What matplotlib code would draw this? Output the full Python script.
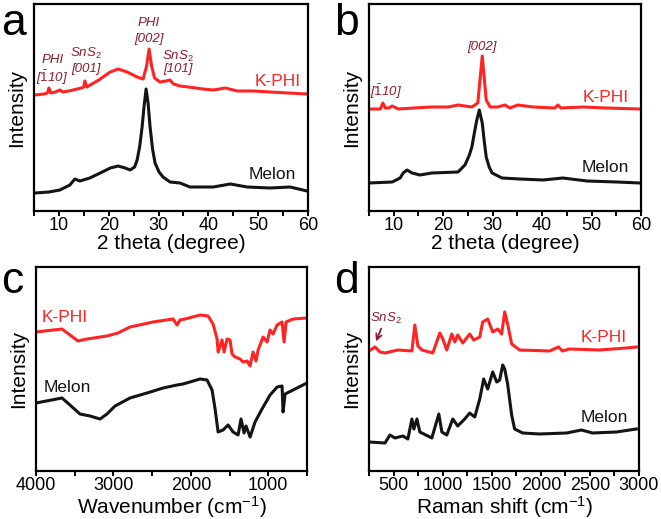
import numpy as np
import matplotlib
matplotlib.use('Agg')
import matplotlib.pyplot as plt

plt.rcParams['font.family'] = ['Liberation Sans', 'DejaVu Sans']
plt.rcParams['mathtext.fontset'] = 'custom'
plt.rcParams['mathtext.rm'] = 'Liberation Sans'
plt.rcParams['mathtext.it'] = 'Liberation Sans:italic'

# ---- data (arbitrary intensity units) ----
# a: XRD, 2 theta
a_kphi_x = [5.2, 7.0, 7.7, 8.0, 8.4, 9.3, 10.2, 10.8, 12.0, 14.5, 15.0, 15.2, 15.6, 18.0, 20.3,
            21.9, 23.7, 25.7, 26.9, 27.6, 28.1, 28.6, 29.2, 30.3, 31.5, 32.3, 33.0, 34.3, 36.0,
            38.9, 41.0, 43.4, 45.8, 49.0, 52.4, 56.0, 59.8]
a_kphi_y = [116, 117, 118, 123, 118, 119, 121, 119, 120, 123, 124, 130, 124, 131, 139,
            142, 139, 134, 132, 145, 162, 145, 133, 129, 130, 131, 127, 125, 124,
            122, 121, 123, 120, 120, 119, 118, 117]
a_mel_x = [5.2, 8.0, 10.2, 12.2, 13.2, 14.2, 16.2, 18.3, 20.3, 21.9, 23.3, 24.3, 25.2, 25.7, 26.2,
           26.7, 27.1, 27.5, 27.9, 28.3, 28.8, 29.3, 30.1, 30.9, 32.3, 34.3, 36.3, 41.0, 44.4,
           47.8, 52.4, 56.4, 59.8]
a_mel_y = [18, 19, 21, 26, 32, 30, 33, 38, 43, 45, 43, 41, 44, 51, 64,
           84, 105, 122, 108, 84, 62, 48, 39, 34, 29, 28, 24, 24, 27,
           24, 23, 24, 20]

# b: XRD, 2 theta
b_kphi_x = [5.0, 7.3, 7.8, 8.3, 9.0, 9.7, 10.9, 14.0, 17.7, 21.0, 23.0, 25.8, 27.0, 27.9,
            28.7, 29.5, 31.0, 32.5, 33.5, 35.1, 38.2, 42.6, 43.2, 43.8, 48.3, 53.1, 59.8]
b_kphi_y = [102, 102, 108, 103, 103, 105, 102, 103, 104, 104, 106, 104, 108, 155,
            111, 104, 104, 106, 103, 106, 104, 103, 106, 103, 104, 103, 102]
b_mel_x = [5.0, 9.7, 11.3, 11.9, 12.7, 13.7, 15.3, 17.7, 23.0, 24.4, 25.3, 25.8, 26.3, 26.8,
           27.3, 27.9, 28.3, 28.7, 29.3, 29.9, 31.9, 35.5, 40.2, 44.2, 49.1, 55.1, 59.8]
b_mel_y = [28, 29, 33, 38, 41, 38, 36, 38, 39, 46, 56, 64, 78, 91,
           101, 88, 70, 54, 44, 38, 33, 32, 31, 33, 30, 29, 28]

# c: FTIR, wavenumber
c_kphi_x = [4000, 3664, 3561, 3457, 3341, 3083, 2941, 2786, 2488, 2230, 2178, 2140, 2075, 1881,
            1778, 1713, 1661, 1648, 1597, 1571, 1532, 1494, 1468, 1429, 1364, 1326, 1274, 1235,
            1197, 1158, 1132, 1067, 1016, 977, 938, 886, 822, 796, 770, 680, 500]
c_kphi_y = [139, 142, 136, 130, 132, 135, 138, 144, 149, 152, 146, 151, 152, 156,
            155, 147, 132, 119, 131, 119, 132, 131, 117, 114, 112, 109, 110, 105,
            119, 110, 121, 134, 129, 141, 137, 146, 149, 129, 149, 152, 153]
c_mel_x = [4000, 3664, 3561, 3432, 3302, 3173, 3083, 2979, 2786, 2566, 2359, 2178, 2101, 1881,
           1791, 1726, 1687, 1648, 1584, 1519, 1455, 1390, 1352, 1313, 1287, 1235, 1171, 1081,
           977, 886, 822, 809, 783, 680, 500]
c_mel_y = [68, 73, 66, 57, 55, 52, 57, 65, 73, 78, 83, 86, 87, 92,
           91, 81, 62, 39, 41, 46, 39, 36, 52, 38, 45, 34, 49, 62,
           76, 84, 85, 59, 77, 81, 88]

# d: Raman shift
d_kphi_x = [250, 311, 362, 413, 545, 687, 717, 748, 789, 900, 971, 1002, 1042, 1093, 1124,
            1154, 1205, 1276, 1317, 1378, 1408, 1459, 1510, 1561, 1601, 1632, 1662, 1703, 1784,
            2089, 2180, 2221, 2292, 2597, 2871, 2973]
d_kphi_y = [120, 124, 119, 118, 121, 120, 146, 125, 121, 118, 138, 132, 121, 137, 129,
            136, 128, 137, 131, 134, 149, 152, 139, 142, 137, 159, 147, 127, 121,
            120, 124, 120, 122, 121, 123, 124]
d_mel_x = [250, 413, 463, 514, 595, 646, 687, 707, 738, 768, 890, 961, 992, 1042, 1103,
           1154, 1225, 1276, 1327, 1378, 1418, 1459, 1510, 1551, 1581, 1612, 1632, 1662, 1703,
           1733, 1815, 1987, 2262, 2414, 2526, 2770, 2973]
d_mel_y = [29, 28, 36, 33, 35, 32, 52, 42, 52, 39, 33, 57, 39, 36, 52,
           45, 52, 58, 54, 72, 92, 82, 99, 89, 91, 106, 102, 87, 56,
           42, 38, 37, 38, 41, 38, 39, 42]

RED = '#ff2424'
BLK = '#141414'
ANN = '#8c1c2c'

W, H = 661, 519
fig = plt.figure(figsize=(W / 100, H / 100), dpi=100)


def make_ax(l, t, r, b):
    ax = fig.add_axes([l / W, 1 - b / H, (r - l) / W, (b - t) / H])
    for s in ax.spines.values():
        s.set_linewidth(1.6)
    ax.set_yticks([])
    ax.tick_params(axis='x', which='both', direction='out', length=3.5, width=1.4,
                   labelsize=13, pad=1)
    ax.set_ylabel('Intensity', fontsize=15, labelpad=6)
    return ax


# panel a
ax = make_ax(34, 4, 308, 211)
ax.plot(a_kphi_x, a_kphi_y, color=RED, lw=2.2)
ax.plot(a_mel_x, a_mel_y, color=BLK, lw=2.2)
ax.set_xlim(5, 60)
ax.set_ylim(0, 207)
ax.set_xticks([10, 20, 30, 40, 50, 60])
ax.set_xticks(np.arange(5, 61, 5), minor=True)
ax.set_xlabel('2 theta (degree)', fontsize=15, labelpad=0)
ax.text(54.0, 129, 'K-PHI', color=RED, fontsize=12.5, ha='center', va='center')
ax.text(52.8, 36, 'Melon', color=BLK, fontsize=12.5, ha='center', va='center')
kw = dict(color=ANN, fontsize=9.5, ha='center', va='center', style='italic')
ax.text(8.7, 151, 'PHI', **kw)
ax.text(8.7, 133, r'[$\mathit{\bar{1}}$10]', **kw)
ax.text(15.4, 158, r'SnS$_\mathit{2}$', **kw)
ax.text(15.4, 142, '[001]', **kw)
ax.text(28.0, 188, 'PHI', **kw)
ax.text(28.0, 172, '[002]', **kw)
ax.text(33.9, 155, r'SnS$_\mathit{2}$', **kw)
ax.text(33.9, 142, '[101]', **kw)

# panel b
ax = make_ax(369, 4, 641, 211)
ax.plot(b_kphi_x, b_kphi_y, color=RED, lw=2.2)
ax.plot(b_mel_x, b_mel_y, color=BLK, lw=2.2)
ax.set_xlim(5, 60)
ax.set_ylim(0, 207)
ax.set_xticks([10, 20, 30, 40, 50, 60])
ax.set_xticks(np.arange(5, 61, 5), minor=True)
ax.set_xlabel('2 theta (degree)', fontsize=15, labelpad=0)
ax.text(52.9, 113, 'K-PHI', color=RED, fontsize=12.5, ha='center', va='center')
ax.text(52.7, 43, 'Melon', color=BLK, fontsize=12.5, ha='center', va='center')
ax.text(8.4, 119, r'[$\mathit{\bar{1}}$10]', **kw)
ax.text(27.9, 164, '[002]', **kw)

# panel c
ax = make_ax(36, 267, 307, 471)
ax.plot(c_kphi_x, c_kphi_y, color=RED, lw=2.2)
ax.plot(c_mel_x, c_mel_y, color=BLK, lw=2.2)
ax.set_xlim(4000, 500)
ax.set_ylim(0, 204)
ax.set_xticks([4000, 3000, 2000, 1000])
ax.set_xticks(np.arange(500, 4001, 500), minor=True)
ax.set_xlabel('Wavenumber (cm$^{-1}$)', fontsize=15, labelpad=0)
ax.text(3625, 153, 'K-PHI', color=RED, fontsize=12.5, ha='center', va='center')
ax.text(3600, 84, 'Melon', color=BLK, fontsize=12.5, ha='center', va='center')

# panel d
ax = make_ax(369, 267, 639, 471)
ax.plot(d_kphi_x, d_kphi_y, color=RED, lw=2.2)
ax.plot(d_mel_x, d_mel_y, color=BLK, lw=2.2)
ax.set_xlim(250, 3000)
ax.set_ylim(0, 204)
ax.set_xticks([500, 1000, 1500, 2000, 2500, 3000])
ax.set_xticks(np.arange(250, 3001, 250), minor=True)
ax.set_xlabel('Raman shift (cm$^{-1}$)', fontsize=15, labelpad=0)
ax.text(2638, 133, 'K-PHI', color=RED, fontsize=12.5, ha='center', va='center')
ax.text(2648, 53, 'Melon', color=BLK, fontsize=12.5, ha='center', va='center')
ax.text(423, 153, r'SnS$_\mathit{2}$', **kw)
ax.annotate('', xy=(311, 127), xytext=(385, 145),
            arrowprops=dict(arrowstyle='->', color=ANN, lw=1.3))

# panel letters
for lab, x, y in [('a', 1, 35), ('b', 334, 35), ('c', 1, 293), ('d', 334, 293)]:
    fig.text(x / W, 1 - y / H, lab, fontsize=32, va='baseline', ha='left')

fig.savefig('out.png', dpi=100)
